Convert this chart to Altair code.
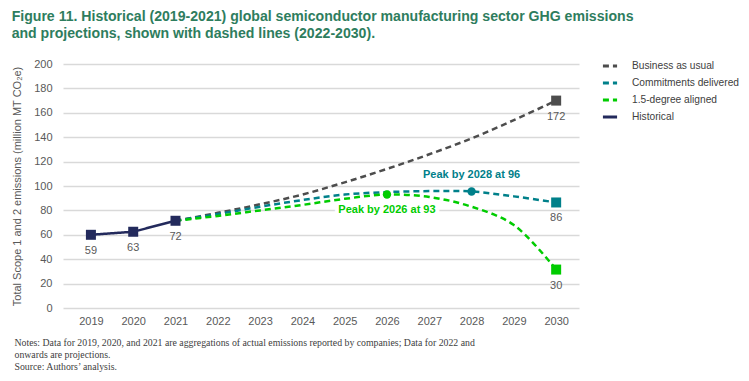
import altair as alt
import pandas as pd

FONT = "Liberation Sans"
NARROW = "Liberation Sans Narrow"

years_hist = [2019, 2020, 2021]
historical = [60, 62.5, 71.5]
hist_labels = ["59", "63", "72"]

years_proj = [2021, 2022, 2023, 2024, 2025, 2026, 2027, 2028, 2029, 2030]
bau = [71.5, 78, 85, 93, 103, 114, 126, 139, 154, 170]
commit = [71.5, 77, 83, 88.5, 93, 95, 95.8, 95.5, 91.5, 86.5]
deg15 = [71.5, 75.5, 80, 84.5, 89.5, 93, 91, 83, 68, 31.5]

series = ["Business as usual", "Commitments delivered", "1.5-degree aligned", "Historical"]
colors = ["#4d4d4d", "#00808a", "#00cc00", "#232a5c"]
dashes = [[6, 4], [6, 4], [6, 4], [1, 0]]
end_labels = ["172", "86", "30"]

peak_years = [2028, 2026]
peak_vals = [95.5, 93]
peak_series = ["Commitments delivered", "1.5-degree aligned"]
peak_text = ["Peak by 2028 at 96", "Peak by 2026 at 93"]

all_years = list(range(2019, 2031))

hist_df = pd.DataFrame({"year": years_hist, "value": historical, "series": "Historical"})
rows = []
for name, vals in zip(series[:3], [bau, commit, deg15]):
    for y, v in zip(years_proj, vals):
        rows.append({"year": y, "value": v, "series": name})
proj_df = pd.DataFrame(rows)

sq_rows = [{"year": y, "value": v, "series": "Historical", "label": l}
           for y, v, l in zip(years_hist, historical, hist_labels)]
for name, vals, l in zip(series[:3], [bau, commit, deg15], end_labels):
    sq_rows.append({"year": years_proj[-1], "value": vals[-1], "series": name, "label": l})
sq = pd.DataFrame(sq_rows)

pk = pd.DataFrame({"year": peak_years, "value": peak_vals, "series": peak_series, "text": peak_text})

notes = [
    "Notes: Data for 2019, 2020, and 2021 are aggregations of actual emissions reported by companies; Data for 2022 and",
    "onwards are projections.",
    "Source: Authors\u2019 analysis.",
]

x_enc = alt.X("year:Q", scale=alt.Scale(domain=[2018.34, 2030.54], nice=False, zero=False),
              axis=alt.Axis(title=notes, values=all_years, format="d", labelAngle=0, labelAlign="center",
                            domain=False, ticks=False, grid=False, labelFlush=False, labelOverlap=False,
                            labelFontSize=11, labelColor="#595959", labelPadding=7, labelFont=FONT,
                            titleFont=NARROW, titleFontSize=9.8, titleFontWeight="normal",
                            titleColor="#404040", titleAlign="left", titleAnchor="start",
                            titleX=-49, titleY=29, titleBaseline="top", titleLineHeight=12.3))
y_enc = alt.Y("value:Q", scale=alt.Scale(domain=[0, 200]),
              axis=alt.Axis(title="Total Scope 1 and 2 emissions (million MT CO\u2082e)",
                            values=list(range(0, 201, 20)), domain=False, ticks=False,
                            gridColor="#d9d9d9", gridWidth=1.5, labelOverlap=False,
                            labelFontSize=11, labelColor="#595959", labelPadding=11, labelFont=FONT,
                            titleFont=FONT, titleFontSize=11, titleFontWeight="normal",
                            titleColor="#595959", titlePadding=11))

color_scale = alt.Scale(domain=series, range=colors)
dash_scale = alt.Scale(domain=series, range=dashes)

legend = alt.Legend(title=None, orient="none", legendX=538, legendY=-7,
                    symbolType="stroke", symbolSize=200, symbolStrokeWidth=3,
                    labelFont=FONT, labelFontSize=10.2, labelColor="#404040",
                    labelOffset=13, rowPadding=2, padding=0)

proj_lines = alt.Chart(proj_df).mark_line(strokeWidth=2.5, interpolate="catmull-rom").encode(
    color=alt.Color("series:N", scale=color_scale, sort=series, legend=legend),
    strokeDash=alt.StrokeDash("series:N", scale=dash_scale, sort=series, legend=None),
)
hist_line = alt.Chart(hist_df).mark_line(strokeWidth=2.5).encode(
    color=alt.Color("series:N", scale=color_scale, sort=series, legend=legend),
    strokeDash=alt.StrokeDash("series:N", scale=dash_scale, sort=series, legend=None),
)

squares = alt.Chart(sq).mark_point(shape="square", filled=True, size=100, opacity=1).encode(
    color=alt.Color("series:N", scale=color_scale, legend=None),
)

sq_labels = alt.Chart(sq).mark_text(dy=16, fontSize=11, font=FONT, color="#595959").encode(
    text="label:N",
)

dots = alt.Chart(pk).mark_point(shape="circle", filled=True, size=70, opacity=1).encode(
    color=alt.Color("series:N", scale=color_scale, legend=None),
)

pk_top = pk.iloc[[0]]
pk_bot = pk.iloc[[1]]

peak1 = alt.Chart(pk_top).mark_text(dy=-16, fontSize=11, font=FONT, fontWeight="bold").encode(
    text="text:N",
    color=alt.Color("series:N", scale=color_scale, legend=None),
)
peak2_halo = alt.Chart(pk_bot).mark_text(dy=15, fontSize=11, font=FONT, fontWeight="bold",
                                         color="white", stroke="white", strokeWidth=8).encode(
    text="text:N",
)
peak2 = alt.Chart(pk_bot).mark_text(dy=15, fontSize=11, font=FONT, fontWeight="bold").encode(
    text="text:N",
    color=alt.Color("series:N", scale=color_scale, legend=None),
)

chart = alt.layer(peak2_halo, proj_lines, hist_line, squares, dots, sq_labels, peak1, peak2).encode(
    x=x_enc, y=y_enc,
).properties(
    width=516, height=244,
    title=alt.TitleParams(
        text=["Figure 11. Historical (2019-2021) global semiconductor manufacturing sector GHG emissions",
              "and projections, shown with dashed lines (2022-2030)."],
        anchor="start", frame="bounds", font=FONT, fontSize=14.1, fontWeight="bold",
        color="#2e7d5e", lineHeight=17, offset=15.5, dx=0),
    padding={"left": 3, "top": 2, "right": 0, "bottom": 0},
).configure_view(stroke=None)

chart.save("out.html", embed_options={"renderer": "svg", "actions": False})
